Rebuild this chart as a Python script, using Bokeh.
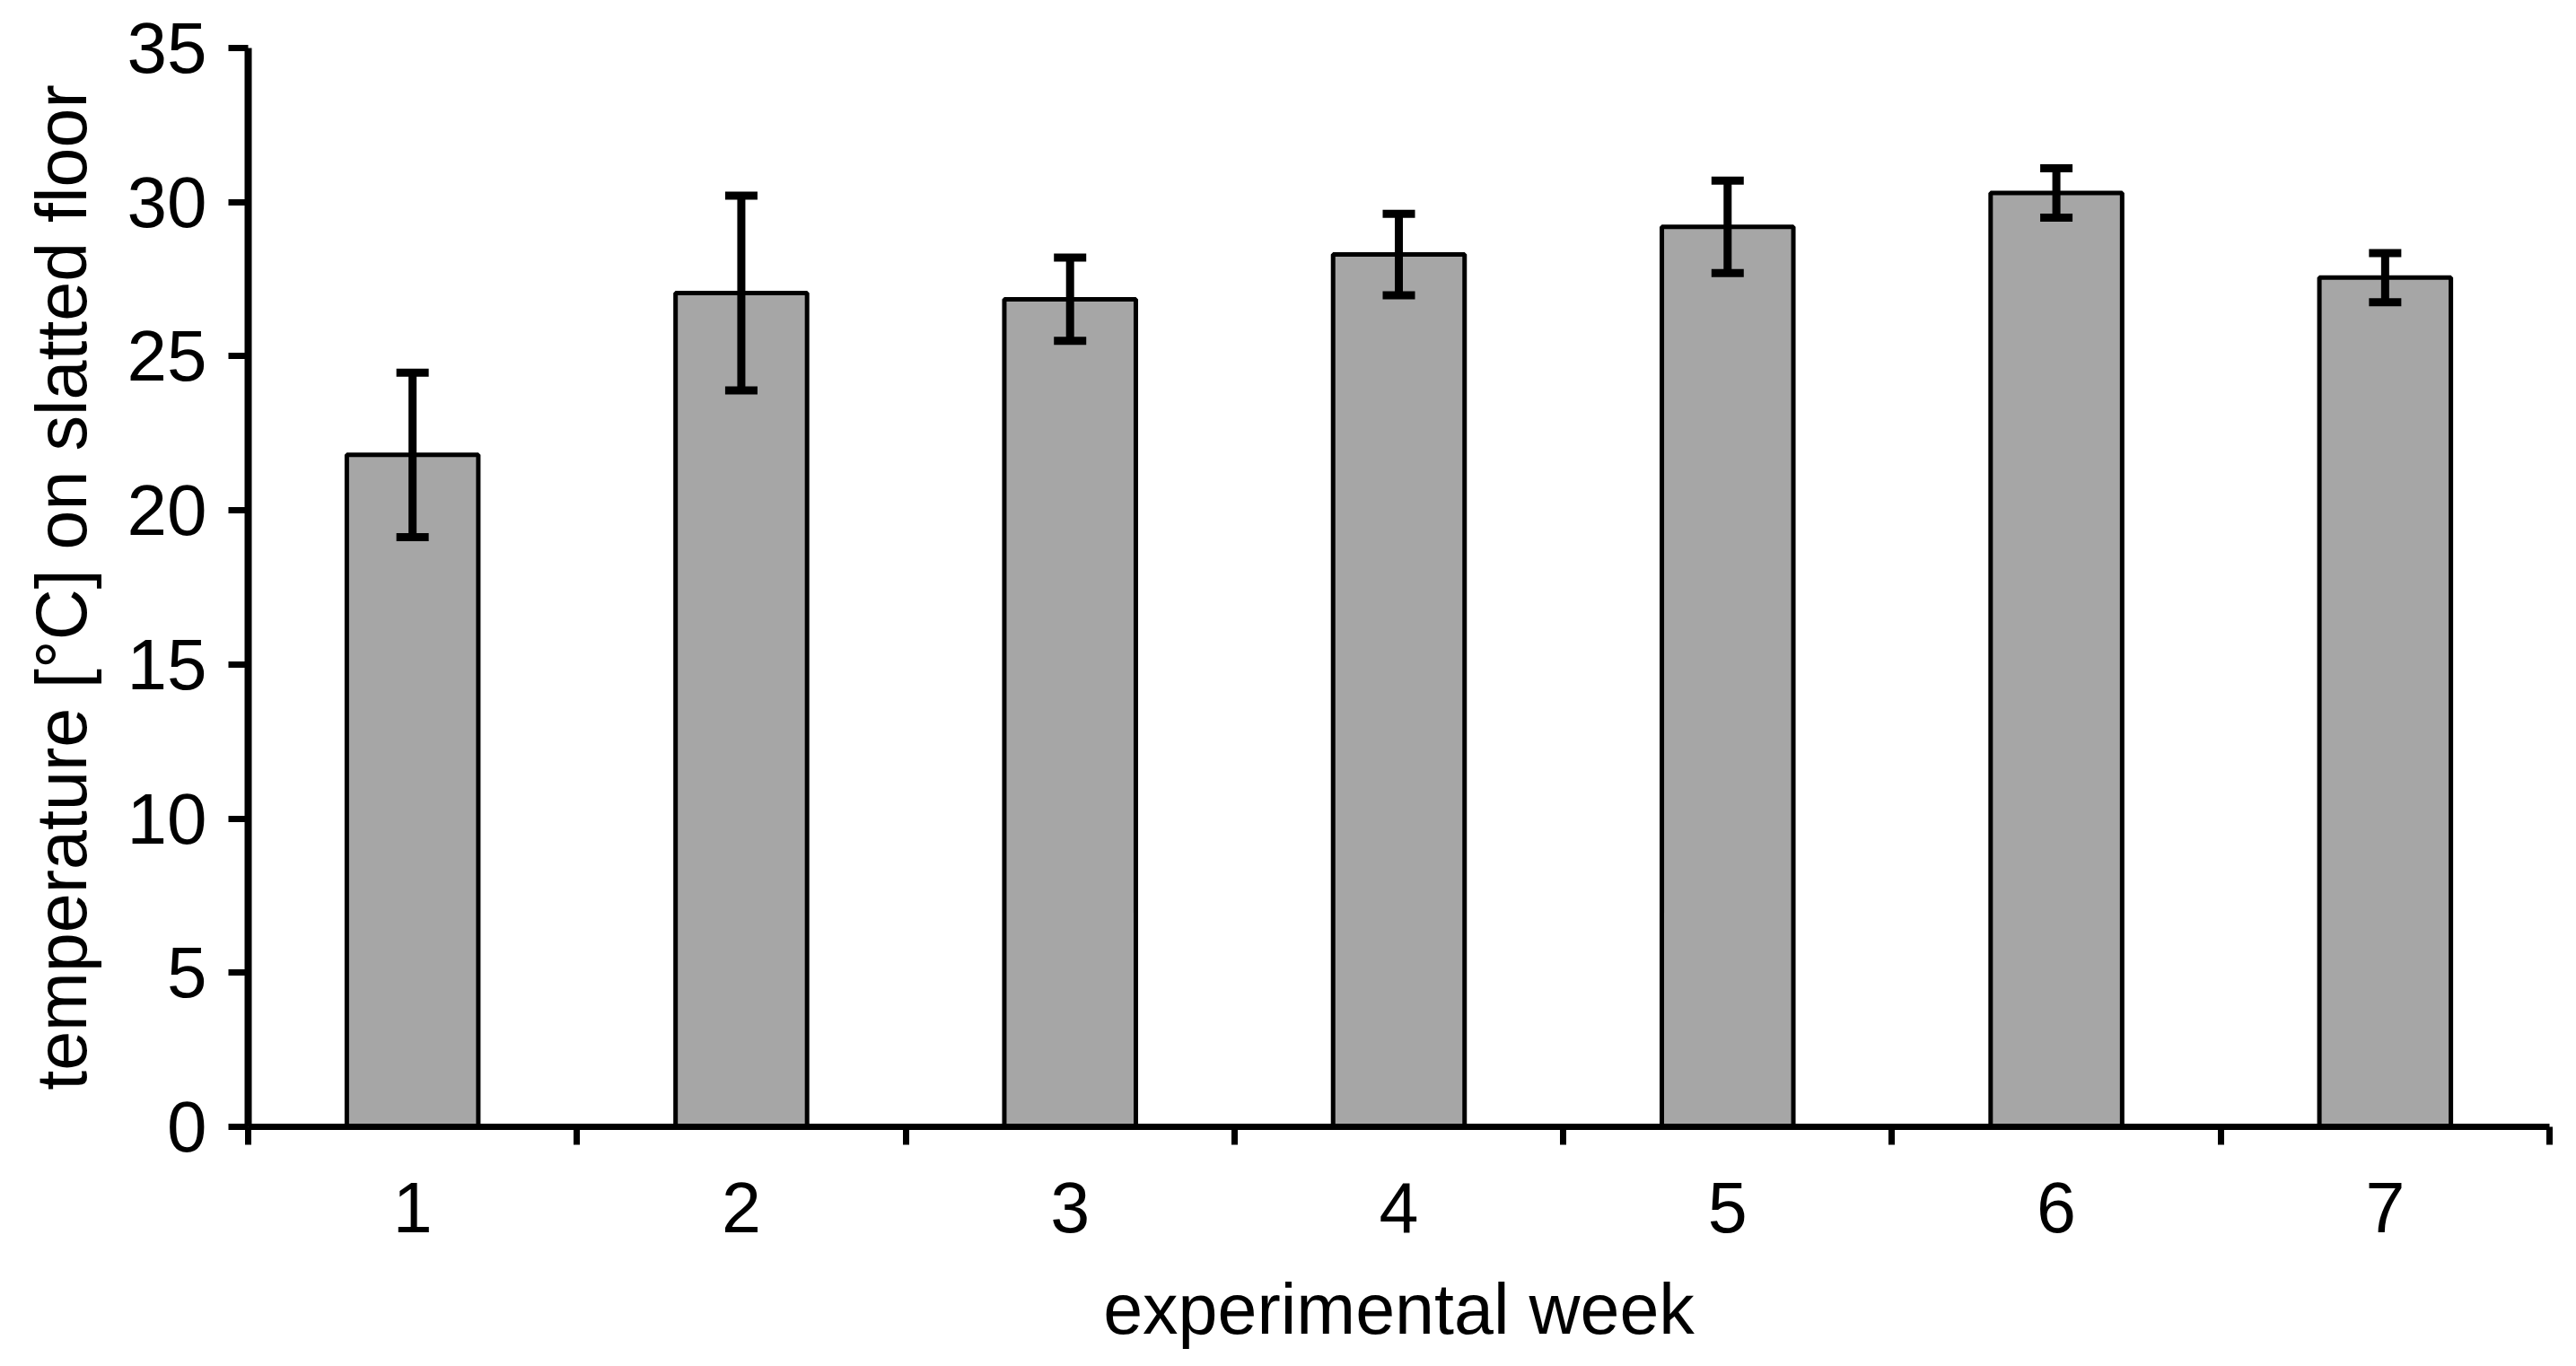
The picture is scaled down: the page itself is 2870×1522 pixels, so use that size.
from bokeh.plotting import figure
from bokeh.models import ColumnDataSource, Whisker, FixedTicker, Range1d, TeeHead
from bokeh.embed import file_html
from bokeh.resources import INLINE

weeks = [1, 2, 3, 4, 5, 6, 7]
week_labels = ["1", "2", "3", "4", "5", "6", "7"]
means = [21.8, 27.05, 26.85, 28.3, 29.2, 30.3, 27.55]
errors = [2.67, 3.16, 1.35, 1.32, 1.5, 0.8, 0.8]
y_ticks = [0, 5, 10, 15, 20, 25, 30, 35]

lower = [m - e for m, e in zip(means, errors)]
upper = [m + e for m, e in zip(means, errors)]
src = ColumnDataSource(dict(x=weeks, top=means, lower=lower, upper=upper))

FONT = "Liberation Sans"

p = figure(width=2854, height=1506, output_backend="svg", toolbar_location=None,
           x_range=Range1d(0.5, 7.5), y_range=Range1d(0, 35),
           min_border_left=276, min_border_right=14, min_border_top=53, min_border_bottom=251)
p.outline_line_color = None
p.xgrid.visible = False
p.ygrid.visible = False
p.background_fill_color = "white"

p.vbar(x="x", top="top", bottom=0, width=0.4, source=src,
       fill_color="#a6a6a6", line_color="black", line_width=5)

w = Whisker(base="x", lower="lower", upper="upper", source=src,
            line_color="black", line_width=9, level="overlay",
            upper_head=TeeHead(size=36, line_color="black", line_width=9),
            lower_head=TeeHead(size=36, line_color="black", line_width=9))
p.add_layout(w)

xa = p.xaxis[0]
xa.ticker = FixedTicker(ticks=weeks, minor_ticks=[0.5 + i for i in range(8)])
xa.major_label_overrides = {w_: l for w_, l in zip(weeks, week_labels)}
xa.major_tick_line_color = None
xa.minor_tick_in = 0
xa.minor_tick_out = 20
xa.minor_tick_line_width = 7
xa.minor_tick_line_color = "black"
xa.axis_line_width = 7
xa.axis_line_color = "black"
xa.major_label_text_font = FONT
xa.major_label_text_font_size = "79px"
xa.major_label_text_color = "black"
xa.major_label_standoff = 42
xa.axis_label = "experimental week"
xa.axis_label_text_font = FONT
xa.axis_label_text_font_size = "79px"
xa.axis_label_text_font_style = "normal"
xa.axis_label_text_color = "black"
xa.axis_label_standoff = 38

ya = p.yaxis[0]
ya.ticker = FixedTicker(ticks=y_ticks, minor_ticks=[])
ya.major_tick_in = 0
ya.major_tick_out = 22
ya.major_tick_line_width = 7
ya.major_tick_line_color = "black"
ya.axis_line_width = 8
ya.axis_line_color = "black"
ya.major_label_text_font = FONT
ya.major_label_text_font_size = "80px"
ya.major_label_text_color = "black"
ya.major_label_standoff = 24
ya.axis_label = "temperature [°C] on slatted floor"
ya.axis_label_text_font = FONT
ya.axis_label_text_font_size = "79px"
ya.axis_label_text_font_style = "normal"
ya.axis_label_text_color = "black"
ya.axis_label_standoff = 26

open("out.html", "w").write(file_html(p, INLINE))
